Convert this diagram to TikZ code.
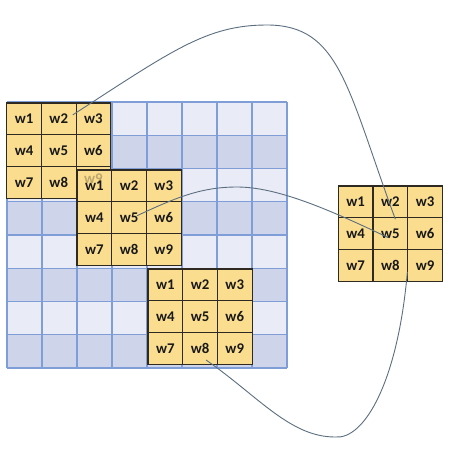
\documentclass[tikz,border=0pt]{standalone}
\usepackage{fontspec}
\setmainfont{Carlito}
\usetikzlibrary{calc}
\definecolor{rowlight}{HTML}{E9EBF6}
\definecolor{rowdark}{HTML}{CED5EB}
\definecolor{gridline}{HTML}{7F9DD6}
\definecolor{kfill}{HTML}{FADD8F}
\definecolor{kborder}{HTML}{2E2A22}
\definecolor{curvecol}{HTML}{5C6F80}
\newcommand\drawkernel[3]{%
  \foreach \i in {1,...,9} {
    \pgfmathtruncatemacro\kc{mod(\i-1,3)}
    \pgfmathtruncatemacro\kr{div(\i-1,3)}
    \node[kcell] (#1-\i) at ({#2+(\kc+0.5)*34.7},{#3+(\kr+0.5)*31.8}) {w\i};
  }%
}
\begin{document}
\begin{tikzpicture}[x=1pt,y=-1pt,
  kcell/.style={draw=kborder, line width=1.2pt, fill=kfill, minimum width=34.7pt,
    minimum height=31.8pt, inner sep=0pt, font=\fontsize{14.8}{16}\selectfont\bfseries, text=black!90},
  faintw/.style={inner sep=0pt, font=\fontsize{14.8}{16}\selectfont\bfseries, text=black, opacity=0.25},
  conn/.style={draw=curvecol, line width=0.9pt},
  gridln/.style={draw=gridline, line width=1.4pt}]
\useasboundingbox (0,0) rectangle (464,466);
\fill[white] (0,0) rectangle (464,466);
% background grid (8 x 8 banded table)
\foreach \r in {0,...,7} {
  \pgfmathtruncatemacro\rowpar{mod(\r,2)}
  \ifnum\rowpar=0
    \fill[rowlight] (7,{102+\r*33.25}) rectangle (287,{102+(\r+1)*33.25});
  \else
    \fill[rowdark] (7,{102+\r*33.25}) rectangle (287,{102+(\r+1)*33.25});
  \fi
}
\foreach \c in {0,...,8} \draw[gridln] ({7+\c*35},102) -- ({7+\c*35},368);
\foreach \r in {0,...,8} \draw[gridln] (7,{102+\r*33.25}) -- (287,{102+\r*33.25});
% kernels
\drawkernel{ka}{6.7}{103}
\drawkernel{kb}{77}{170}
\node[faintw] (ka9ghost) at ($(ka-9)+(0,-4)$) {w9};
\drawkernel{kc}{148}{269}
\drawkernel{kr}{338.3}{186}
% curve end points and turning points
\coordinate (s1) at ($(ka-2)+(14,-4)$);
\coordinate (e1) at ($(kr-5.north)+(5,2)$);
\coordinate (t1) at (267,25);
\coordinate (s2) at ($(kb-5)+(8,-2)$);
\coordinate (e2) at ($(kr-5)+(-2,4)$);
\coordinate (t2) at (237,187);
\coordinate (s3) at ($(kc-8)+(6,11.5)$);
\coordinate (e3) at ($(kr-8)+(17,6.5)$);
\coordinate (t3) at (335,437);
\draw[conn] (s1) .. controls (173,50) and (207,25) .. (t1)
                 .. controls (340,25) and (347,88) .. (e1);
\draw[conn] (s2) .. controls (177,197) and (202,187) .. (t2)
                 .. controls (277,187) and (328,209) .. (e2);
\draw[conn] (s3) .. controls (258,396) and (290,437) .. (t3)
                 .. controls (365,440) and (398,380) .. (e3);
\end{tikzpicture}
\end{document}
